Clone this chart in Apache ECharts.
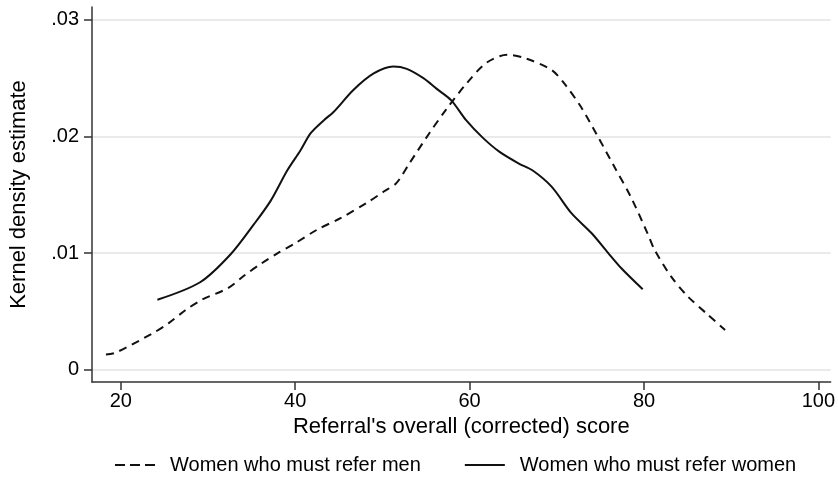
<!DOCTYPE html>
<html>
<head>
<meta charset="utf-8">
<script src="https://cdn.jsdelivr.net/npm/echarts@6/dist/echarts.min.js"></script>
<style>html,body{margin:0;padding:0;background:#fff}#c{width:838px;height:496px}</style>
</head>
<body>
<div id="c"></div>
<script>
// Women who must refer men (dashed)
const menX = [18.3, 19.4, 23.6, 25.5, 27.4, 29.3, 32.3, 34.2, 36.1, 38.0, 39.9, 42.5, 45.2, 48.2, 50.2, 51.6, 53.1, 55.4, 57.3, 59.6, 61.9, 64.3, 66.4, 69.4, 70.9, 72.8, 74.7, 76.6, 78.5, 80.4, 81.2, 83.1, 85.0, 87.2, 89.3];
const menY = [0.0013, 0.00146, 0.0031, 0.0040, 0.0051, 0.0060, 0.0070, 0.0081, 0.0091, 0.0100, 0.0108, 0.0120, 0.0130, 0.0143, 0.0153, 0.0160, 0.0177, 0.0203, 0.0223, 0.0245, 0.0263, 0.0270, 0.0267, 0.0257, 0.0245, 0.0225, 0.0200, 0.0174, 0.0148, 0.0117, 0.0103, 0.0080, 0.0063, 0.0048, 0.0034];
// Women who must refer women (solid)
const womenX = [24.2, 29.1, 32.6, 35.3, 37.2, 39.1, 40.6, 41.8, 43.3, 44.4, 46.7, 49.0, 51.25, 52.8, 54.7, 56.2, 57.9, 59.6, 61.5, 63.4, 65.6, 67.2, 69.4, 71.7, 74.0, 75.9, 77.4, 79.85];
const womenY = [0.0060, 0.0075, 0.0099, 0.0125, 0.0145, 0.0171, 0.0188, 0.0203, 0.0214, 0.0221, 0.0240, 0.0254, 0.0260, 0.0258, 0.0250, 0.0241, 0.0231, 0.0214, 0.0199, 0.0187, 0.0177, 0.0171, 0.0157, 0.0134, 0.0117, 0.0100, 0.0087, 0.0069];
const xTicks = [20, 40, 60, 80, 100];
const yTicks = [0, 0.01, 0.02, 0.03];
const seriesNames = ['Women who must refer men', 'Women who must refer women'];

const zip = (xs, ys) => xs.map((x, i) => [x, ys[i]]);
const FONT = 'Liberation Sans, Arial, sans-serif';
const DASH_ICON = 'path://M0,0h10v2h-10z M15,0h10v2h-10z M30,0h10v2h-10z';
const SOLID_ICON = 'path://M0,0h40v2h-40z';
const chart = echarts.init(document.getElementById('c'), null, {renderer: 'canvas'});
chart.setOption({
  animation: false,
  backgroundColor: '#ffffff',
  textStyle: {fontFamily: FONT, color: '#000'},
  grid: {left: 86, right: 7, top: 7, bottom: 114, containLabel: false},
  legend: {
    left: 110, top: 450, width: 740, itemWidth: 42, itemHeight: 2, itemGap: 44,
    textStyle: {fontSize: 20, color: '#000', fontFamily: FONT, padding: [0, 0, 0, 9]},
    itemStyle: {color: '#111'},
    data: [{name: seriesNames[0], icon: DASH_ICON}, {name: seriesNames[1], icon: SOLID_ICON}]
  },
  xAxis: {
    type: 'value', min: 16.7, max: 101.4,
    name: "Referral's overall (corrected) score", nameLocation: 'middle', nameGap: 24,
    nameTextStyle: {fontSize: 22, color: '#000', fontFamily: FONT},
    axisLine: {show: true, onZero: false, lineStyle: {color: '#333', width: 1.5}},
    axisTick: {show: true, length: 8, customValues: xTicks, lineStyle: {color: '#333', width: 1.5}},
    axisLabel: {customValues: xTicks, fontSize: 20, color: '#000', margin: 9, fontFamily: FONT},
    splitLine: {show: false}
  },
  yAxis: {
    type: 'value', min: -0.00105, max: 0.0311,
    name: 'Kernel density estimate', nameLocation: 'middle', nameGap: 62, nameRotate: 90,
    nameTextStyle: {fontSize: 22, color: '#000', fontFamily: FONT},
    axisLine: {show: true, onZero: false, lineStyle: {color: '#333', width: 1.5}},
    axisTick: {show: true, length: 8, customValues: yTicks, lineStyle: {color: '#333', width: 1.5}},
    axisLabel: {customValues: yTicks, fontSize: 20, color: '#000', margin: 13, fontFamily: FONT,
      formatter: v => v === 0 ? '0' : ('.' + (v * 100).toFixed(0).padStart(2, '0'))},
    splitLine: {show: true, lineStyle: {color: '#e3e3e3', width: 1.5}}
  },
  series: [
    {name: seriesNames[0], type: 'line', data: zip(menX, menY), smooth: 0.3, showSymbol: false, symbol: 'none',
     lineStyle: {color: '#111', width: 2, type: [8, 6]}, itemStyle: {color: '#111'}},
    {name: seriesNames[1], type: 'line', data: zip(womenX, womenY), smooth: 0.3, showSymbol: false, symbol: 'none',
     lineStyle: {color: '#111', width: 2, type: 'solid'}, itemStyle: {color: '#111'}}
  ]
});
</script>
</body>
</html>
